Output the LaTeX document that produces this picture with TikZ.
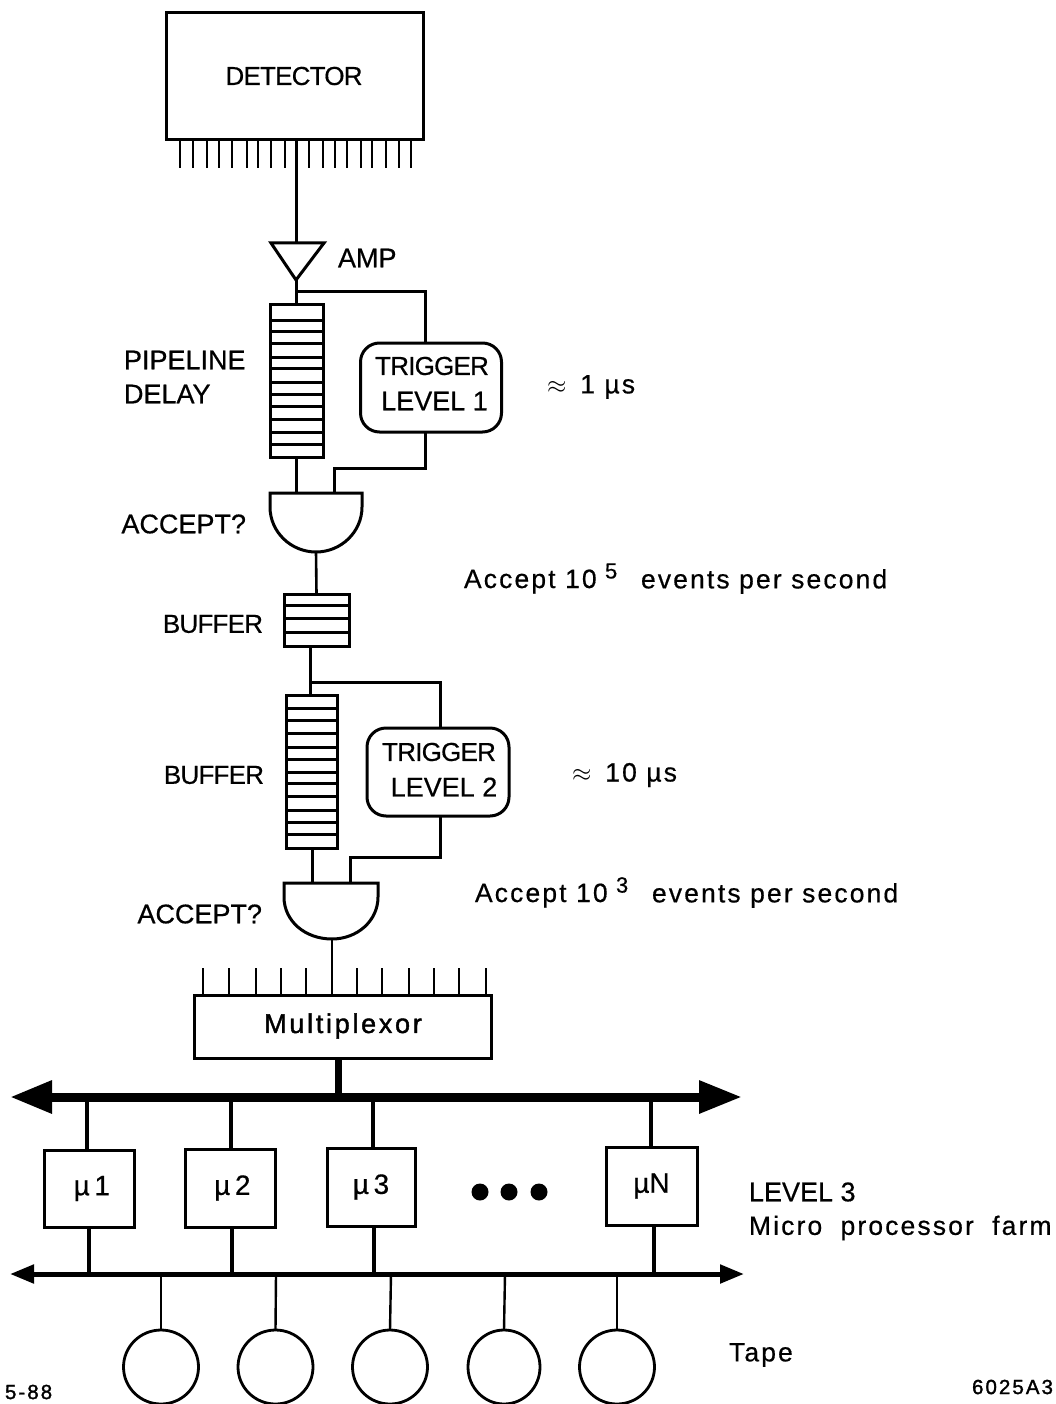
\documentclass[tikz,border=0pt]{standalone}
\usepackage{fontspec}
\setmainfont[RawFeature={embolden=0.5}]{Liberation Sans}
\newfontfamily\tightf[LetterSpace=-3,RawFeature={embolden=0.5}]{Liberation Sans}
\newfontfamily\widef[LetterSpace=8,RawFeature={embolden=0.5}]{Liberation Sans}
\newfontfamily\boldf[LetterSpace=10,RawFeature={embolden=1.5}]{Liberation Sans}
\usetikzlibrary{arrows.meta,shapes.geometric}
\tikzset{
  x=1pt,y=-1pt,
  ln/.style={line width=3pt,line cap=butt,line join=miter},
  thin ln/.style={line width=2.6pt},
  pin/.style={line width=2.8pt},
  box/.style={draw,line width=3pt,rectangle,inner sep=0,outer sep=0},
  upbox/.style={draw,line width=3pt,rectangle,inner sep=0,outer sep=0,minimum width=90pt,minimum height=77pt,
     font=\fontsize{28}{28}\selectfont},
  trig/.style={draw,line width=3pt,rectangle,rounded corners=19pt,inner sep=0,outer sep=0,minimum width=141pt,minimum height=89pt},
  tape/.style={draw,line width=2.8pt,ellipse,inner sep=0,outer sep=0,minimum width=75pt,minimum height=74pt},
  txt/.style={inner sep=0,outer sep=0,font=\fontsize{27}{27}\selectfont},
  wtxt/.style={inner sep=0,outer sep=0,font=\fontsize{26.5}{26.5}\widef},
  sup/.style={inner sep=0,outer sep=0,font=\fontsize{22}{22}\selectfont},
  small/.style={inner sep=0,outer sep=0,font=\fontsize{20.5}{20.5}\boldf},
  dot/.style={circle,fill=black,inner sep=0,outer sep=0,minimum size=17pt},
  busthick/.style={line width=9pt,{Triangle[width=31pt,length=42pt]}-{Triangle[width=31pt,length=43pt]}},
  busthin/.style={line width=5pt,{Triangle[width=18pt,length=24pt]}-{Triangle[width=18pt,length=24pt]}},
}
\begin{document}
\begin{tikzpicture}
\useasboundingbox (0,0) rectangle (1055,1404);
\fill[white] (0,0) rectangle (1055,1404);

% detector
\node[box,minimum width=257pt,minimum height=127pt] (det) at (294.5,76.5) {};
\node[txt,font=\fontsize{26}{26}\tightf] (detT) at (294,76) {DETECTOR};
\foreach \x in {180,193,207,219,232,247,258,271,285,309,323,335,347,361,372,386,399,411}
  \draw[pin] (\x,140) -- (\x,168);

% amp
\coordinate (ampTop) at (296,243);
\coordinate (ampTip) at (296,280);
\draw[ln,line join=miter] (271,243) -- (324,243) -- (ampTip) -- cycle;
\node[txt,anchor=west] (ampT) at (338,258) {AMP};
\draw[ln] (296,140) -- (ampTop);

% pipeline
\node[box,minimum width=53pt,minimum height=152pt] (pipe) at (297,381) {};
\foreach \y in {320,331,343,357,368,382,394,406,419,432,444}
  \draw[ln] (pipe.west |- 0,\y) -- (pipe.east |- 0,\y);
\draw[ln] (ampTip) -- (296,305);
\node[txt,anchor=west,align=left,font=\fontsize{27}{34}\selectfont] (pipeT) at (124,377) {PIPELINE\\DELAY};

% trigger 1
\node[trig] (trig1) at (431,387.5) {};
\node[txt,font=\fontsize{26}{26}\tightf] (trig1a) at (432,366) {TRIGGER};
\node[txt] (trig1b) at (434.5,401) {LEVEL 1};
\coordinate (j1) at (296,292);
\coordinate (t1in) at (425,343);
\coordinate (t1out) at (425,432);
\coordinate (g1a) at (296,493);
\coordinate (g1b) at (334,493);
\coordinate (g1out) at (316,552);
\draw[ln] (j1) -- (425,292) -- (t1in);
\draw[ln] (t1out) -- (425,468) -- (334,468) -- (g1b);
\draw[ln] (296,457) -- (g1a);
\node[wtxt,anchor=west] (r1) at (547,387) {$\approx$\, 1 µs};

% gate 1
\draw[ln,line join=miter] (270,493) -- (362,493) -- (362,507) .. controls (362,532) and (341,552) .. (g1out) .. controls (291,552) and (270,532) .. (270,507) -- cycle;
\node[txt,anchor=east] (acc1) at (246,524) {ACCEPT?};

% accept rate 1
\node[wtxt,anchor=west] (a1) at (464,581.5) {Accept 10};
\node[sup,anchor=west] (a1s) at (605,571) {5};
\node[wtxt,anchor=west] (a1e) at (641,581.5) {events per second};

% buffer small
\node[box,minimum width=65pt,minimum height=52pt] (buf1) at (316.5,620) {};
\foreach \y in {605,618,632}
  \draw[ln] (buf1.west |- 0,\y) -- (buf1.east |- 0,\y);
\node[txt,font=\fontsize{26}{26}\tightf,anchor=east] (buf1T) at (263,624) {BUFFER};
\draw[thin ln] (g1out) -- (buf1.north);

% buffer long
\node[box,minimum width=51pt,minimum height=153pt] (buf2) at (311.5,771.5) {};
\foreach \y in {708,720,733,747,759,772,783,796,810,822,834}
  \draw[ln] (buf2.west |- 0,\y) -- (buf2.east |- 0,\y);
\node[txt,font=\fontsize{26}{26}\tightf,anchor=east] (buf2T) at (264,775) {BUFFER};
\draw[ln] (310,646) -- (310,695);

% trigger 2
\node[trig,minimum width=142pt,minimum height=88pt] (trig2) at (438,772) {};
\node[txt,font=\fontsize{26}{26}\tightf] (trig2a) at (439,752) {TRIGGER};
\node[txt] (trig2b) at (444,787) {LEVEL 2};
\coordinate (j2) at (310,682);
\coordinate (t2in) at (440,728);
\coordinate (t2out) at (440,816);
\coordinate (g2a) at (312,883);
\coordinate (g2b) at (350,883);
\coordinate (g2out) at (332,939);
\draw[ln] (j2) -- (440,682) -- (t2in);
\draw[ln] (t2out) -- (440,857) -- (350,857) -- (g2b);
\draw[ln] (312,848) -- (g2a);
\node[wtxt,anchor=west] (r2) at (572,775) {$\approx$\, 10 µs};

% gate 2
\draw[ln,line join=miter] (284,883) -- (378,883) -- (378,897) .. controls (378,921) and (357,939) .. (g2out) .. controls (305,939) and (284,921) .. (284,897) -- cycle;
\node[txt,anchor=east] (acc2) at (262,914) {ACCEPT?};

% accept rate 2
\node[wtxt,anchor=west] (a2) at (475,895.5) {Accept 10};
\node[sup,anchor=west] (a2s) at (616,885) {3};
\node[wtxt,anchor=west] (a2e) at (652,895.5) {events per second};

% multiplexor
\node[box,minimum width=297pt,minimum height=63pt] (mux) at (342.5,1026.5) {};
\node[inner sep=0,font=\fontsize{27}{27}\boldf] (muxT) at (343,1026) {Multiplexor};
\foreach \x in {203,229,256,281,306,357,382,409,434,459,486}
  \draw[pin] (\x,968) -- (\x,995);
\draw[thin ln] (g2out) -- (332,995);

% thick bus
\coordinate (busL) at (10,1097);
\coordinate (busR) at (742,1097);
\draw[busthick] (busL) -- (busR);
\draw[line width=7pt] (338,1058) -- (338,1095);

% processors
\node[upbox] (p1) at (89.5,1188.5) {\raisebox{-4pt}{\,µ\,1}};
\node[upbox,minimum height=78pt] (p2) at (230,1188) {\raisebox{-5pt}{\,µ\,2}};
\node[upbox,minimum width=88pt,minimum height=78pt] (p3) at (371,1187) {\raisebox{-4pt}{µ\,3}};
\node[upbox,minimum width=91pt,minimum height=78pt] (pN) at (651.5,1186) {\raisebox{-3pt}{µN}};
\node[dot] (d1) at (480,1192) {};
\node[dot] (d2) at (509,1192) {};
\node[dot] (d3) at (539,1192) {};

% thin bus
\coordinate (bus2L) at (10,1274);
\coordinate (bus2R) at (744,1274);
\draw[busthin] (bus2L) -- (bus2R);

\draw[line width=4.5pt] (87,1097) -- (87,1150);
\draw[line width=4.5pt] (231,1097) -- (231,1149);
\draw[line width=4.5pt] (373,1097) -- (373,1148);
\draw[line width=4.5pt] (651,1097) -- (651,1147);
\draw[line width=4.5pt] (89,1227) -- (89,1274);
\draw[line width=4.5pt] (232,1227) -- (232,1274);
\draw[line width=4.5pt] (374,1226) -- (374,1274);
\draw[line width=4.5pt] (654,1225) -- (654,1274);

\node[txt,anchor=west] (l3a) at (749,1192) {LEVEL 3};
\node[wtxt,anchor=west] (l3b) at (749,1228) {Micro\,\, processor\,\, farm};

% tapes
\node[tape] (t1) at (161,1367) {};
\node[tape] (t2) at (275.5,1367) {};
\node[tape] (t3) at (390,1367) {};
\node[tape,minimum width=72pt] (t4) at (504,1367) {};
\node[tape] (t5) at (617,1367) {};
\foreach \n/\x in {t1/161,t2/276,t3/391,t4/505,t5/617}
  \draw[line width=2.4pt] (\x,1274) -- (\n.north);
\node[wtxt,anchor=west] (tapeT) at (729,1355) {Tape};

\node[small,anchor=west] (dateT) at (5,1392) {5-88};
\node[small,anchor=east] (idT) at (1053,1387) {6025A3};
\end{tikzpicture}
\end{document}
